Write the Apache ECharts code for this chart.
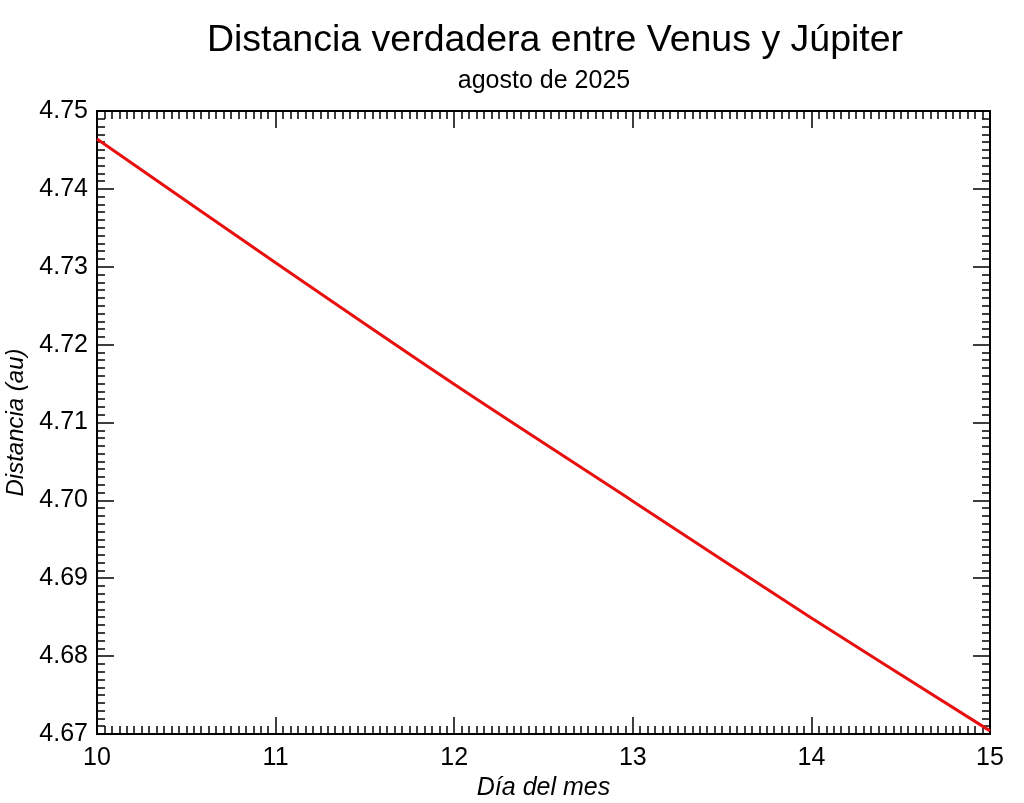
<!DOCTYPE html>
<html>
<head>
<meta charset="utf-8">
<script src="https://cdn.jsdelivr.net/npm/echarts@6/dist/echarts.min.js"></script>
<style>html,body{margin:0;padding:0;background:#fff}#c{width:1024px;height:803px}</style>
</head>
<body>
<div id="c"></div>
<script>
const days = [10, 11, 12, 13, 14, 15];
const distance = [4.7464, 4.7305, 4.7149, 4.6999, 4.6849, 4.6704];
const titleText = 'Distancia verdadera entre Venus y Júpiter';
const subtitleText = 'agosto de 2025';
const xName = 'Día del mes';
const yName = 'Distancia (au)';

const font = 'Liberation Sans, Arial, Helvetica, sans-serif';
const chart = echarts.init(document.getElementById('c'));
const axisCommon = {
  axisLine: {show: true, onZero: false, lineStyle: {color: '#000', width: 2}},
  splitLine: {show: false},
  minorSplitLine: {show: false}
};
chart.setOption({
  animation: false,
  backgroundColor: '#fff',
  title: [
    {text: titleText, left: 550, top: 17, textAlign: 'center',
     textStyle: {fontFamily: font, fontSize: 37.5, fontWeight: 'normal', color: '#000'}},
    {text: subtitleText, left: 539, top: 64, textAlign: 'center',
     textStyle: {fontFamily: font, fontSize: 25, fontWeight: 'normal', color: '#000'}}
  ],
  grid: {left: 97, right: 34, top: 111, bottom: 69, containLabel: false, outerBoundsMode: 'none'},
  xAxis: [
    Object.assign({
      type: 'value', min: 10, max: 15, interval: 1, position: 'bottom',
      name: xName, nameLocation: 'middle', nameGap: 37,
      nameTextStyle: {fontFamily: font, fontSize: 25, fontStyle: 'italic', color: '#000'},
      axisTick: {show: true, inside: true, length: 17, lineStyle: {color: '#000', width: 1.5}},
      minorTick: {show: true, splitNumber: 24, length: 8, lineStyle: {color: '#000', width: 1.5}},
      axisLabel: {show: true, margin: 12, fontFamily: font, fontSize: 25, color: '#000',
        showMinLabel: true, showMaxLabel: true}
    }, axisCommon),
    Object.assign({
      type: 'value', min: 10, max: 15, interval: 1, position: 'top',
      axisTick: {show: true, inside: true, length: 17, lineStyle: {color: '#000', width: 1.5}},
      minorTick: {show: true, splitNumber: 24, length: 8, lineStyle: {color: '#000', width: 1.5}},
      axisLabel: {show: false}
    }, axisCommon)
  ],
  yAxis: [
    Object.assign({
      type: 'value', min: 4.67, max: 4.75, interval: 0.01, position: 'left',
      name: yName, nameLocation: 'middle', nameGap: 62,
      nameTextStyle: {fontFamily: font, fontSize: 24, fontStyle: 'italic', color: '#000'},
      axisTick: {show: true, inside: true, length: 17, lineStyle: {color: '#000', width: 1.5}},
      minorTick: {show: true, splitNumber: 10, length: 8, lineStyle: {color: '#000', width: 1.5}},
      axisLabel: {show: true, margin: 9, fontFamily: font, fontSize: 25, color: '#000',
        formatter: v => v.toFixed(2), showMinLabel: true, showMaxLabel: true}
    }, axisCommon),
    Object.assign({
      type: 'value', min: 4.67, max: 4.75, interval: 0.01, position: 'right',
      axisTick: {show: true, inside: true, length: 17, lineStyle: {color: '#000', width: 1.5}},
      minorTick: {show: true, splitNumber: 10, length: 8, lineStyle: {color: '#000', width: 1.5}},
      axisLabel: {show: false}
    }, axisCommon)
  ],
  series: [{
    type: 'line',
    xAxisIndex: 0, yAxisIndex: 0,
    data: days.map((d, i) => [d, distance[i]]),
    showSymbol: false,
    smooth: 0.3,
    lineStyle: {color: '#e8100f', width: 3},
    clip: true
  }]
});
</script>
</body>
</html>
